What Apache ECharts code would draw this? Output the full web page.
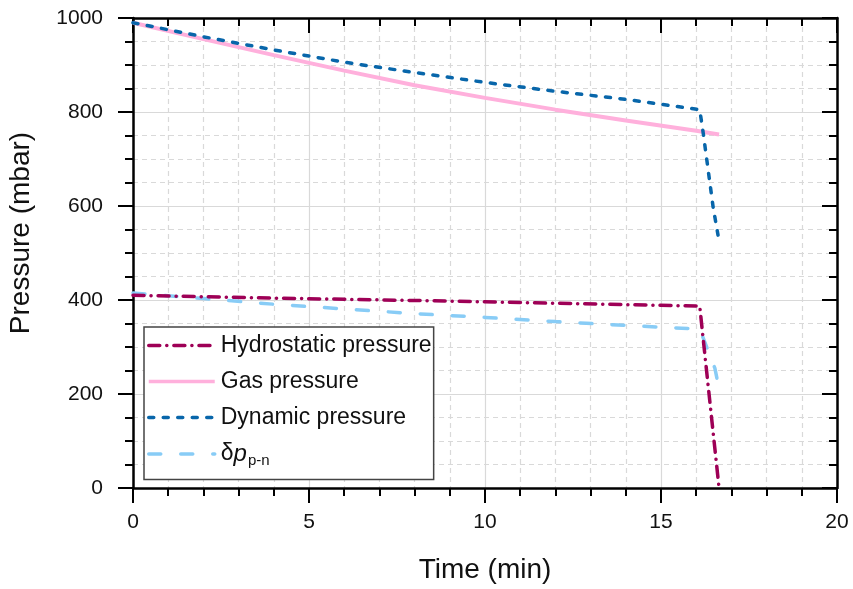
<!DOCTYPE html>
<html>
<head>
<meta charset="utf-8">
<title>Pressure vs time</title>
<script src="https://cdn.jsdelivr.net/npm/echarts@6.0.0/dist/echarts.min.js"></script>
<style>
  html, body { margin: 0; padding: 0; background: #fff; }
  #main { width: 853px; height: 589px; }
</style>
</head>
<body>
<div id="main"></div>
<script>
// data (time in min, pressure in mbar)
var hydroTime = [0, 4, 8, 12, 16.1, 16.25, 16.45, 16.65];
var hydroVal = [410, 404, 399, 393, 387, 281, 140, 0];

var gasTime = [0, 2, 4, 6, 8, 10, 12, 14, 16, 16.65];
var gasVal = [990, 955, 921, 888, 857, 830, 805, 782, 760, 752];

var dynTime = [0, 2, 4, 6, 8, 10, 12, 14, 16.1, 16.2, 16.48, 16.62];
var dynVal = [990, 960, 932, 906, 884, 863, 844, 827, 805, 755, 598, 538];

var deltaTime = [0, 2, 4, 6, 8, 10, 12, 14, 16.1, 16.35, 16.53, 16.62];
var deltaVal = [415, 403, 391, 381, 371, 363, 354, 346, 338, 290, 255, 222];

var xTicks = [0, 5, 10, 15, 20];
var yTicks = [0, 200, 400, 600, 800, 1000];

var seriesNames = ['Hydrostatic pressure', 'Gas pressure', 'Dynamic pressure', 'δp_p-n'];

function zip(xs, ys) {
    return xs.map(function (x, i) { return [x, ys[i]]; });
}

var font = 'Liberation Sans';
var gridColor = '#d9d9d9';

// main axis (bottom / left): outward ticks, labels, grid
function mainAxis(min, max, interval, minorSplit, name, isX) {
    return {
        type: 'value',
        min: min,
        max: max,
        interval: interval,
        name: name,
        nameLocation: 'middle',
        nameGap: isX ? 68 : 98,
        nameTextStyle: {
            fontFamily: font, fontSize: 28, color: '#111',
            // y title sits a bit above the middle in the original
            padding: isX ? 0 : [0, 0, 0, 40]
        },
        axisLine: { show: true, lineStyle: { color: '#000', width: 2.5 } },
        axisTick: { show: true, inside: false, length: 15, lineStyle: { color: '#000', width: 2 } },
        minorTick: { show: true, splitNumber: minorSplit, length: 8, lineStyle: { color: '#000', width: 2 } },
        axisLabel: {
            fontFamily: font, fontSize: 21, color: '#111', margin: isX ? 24 : 30,
            formatter: function (v) {
                var list = isX ? xTicks : yTicks;
                return list.indexOf(v) >= 0 ? String(v) : '';
            }
        },
        splitLine: { show: true, lineStyle: { color: gridColor, width: 1.2 } },
        minorSplitLine: { show: true, lineStyle: { color: gridColor, width: 1.2, type: [5, 4] } }
    };
}

// mirror axis (top / right): inward ticks only
function mirrorAxis(min, max, interval, minorSplit, pos) {
    return {
        type: 'value',
        position: pos,
        min: min,
        max: max,
        interval: interval,
        axisLine: { show: true, onZero: false, lineStyle: { color: '#000', width: 2.5 } },
        axisTick: { show: true, inside: true, length: 15, lineStyle: { color: '#000', width: 2 } },
        minorTick: { show: true, splitNumber: minorSplit, length: 8, lineStyle: { color: '#000', width: 2 } },
        axisLabel: { show: false },
        splitLine: { show: false },
        minorSplitLine: { show: false }
    };
}

var chart = echarts.init(document.getElementById('main'), null, { renderer: 'canvas' });

var option = {
    animation: false,
    backgroundColor: '#fff',
    grid: { left: 133, right: 16, top: 18, bottom: 101, containLabel: false, outerBoundsMode: 'none' },
    xAxis: [
        mainAxis(0, 20, 5, 5, 'Time (min)', true),
        mirrorAxis(0, 20, 5, 5, 'top')
    ],
    yAxis: [
        mainAxis(0, 1000, 200, 4, 'Pressure (mbar)', false),
        mirrorAxis(0, 1000, 200, 4, 'right')
    ],
    legend: {
        orient: 'vertical',
        left: 144,
        top: 327,
        itemWidth: 66,
        itemHeight: 14,
        itemGap: 13,
        padding: [7, 2, 11, 3],
        backgroundColor: '#fff',
        borderColor: '#444',
        borderWidth: 1.5,
        borderRadius: 0,
        data: seriesNames,
        itemStyle: { opacity: 0 },
        lineStyle: { width: 3.5 },
        textStyle: {
            fontFamily: font, fontSize: 23, color: '#111', padding: [0, 0, 0, 1],
            rich: {
                d: { fontFamily: font, fontSize: 23, color: '#111' },
                p: { fontFamily: font, fontSize: 24, fontStyle: 'italic', color: '#111' },
                s: { fontFamily: font, fontSize: 15, color: '#111', padding: [14, 0, 0, 1] }
            }
        },
        formatter: function (name) {
            if (name === 'δp_p-n') return '{d|δ}{p|p}{s|p-n}';
            return name;
        }
    },
    series: [
        {
            name: seriesNames[0],
            type: 'line',
            data: zip(hydroTime, hydroVal),
            showSymbol: false,
            symbol: 'none',
            z: 4,
            lineStyle: { color: '#9e0056', width: 3.5, type: [11, 7, 0.1, 7], cap: 'round' },
            itemStyle: { color: '#9e0056' }
        },
        {
            name: seriesNames[1],
            type: 'line',
            data: zip(gasTime, gasVal),
            showSymbol: false,
            symbol: 'none',
            z: 2,
            lineStyle: { color: '#ffb0dc', width: 4, type: 'solid' },
            itemStyle: { color: '#ffb0dc' }
        },
        {
            name: seriesNames[2],
            type: 'line',
            data: zip(dynTime, dynVal),
            showSymbol: false,
            symbol: 'none',
            z: 3,
            lineStyle: { color: '#0866aa', width: 3.5, type: [5, 9.5], cap: 'round' },
            itemStyle: { color: '#0866aa' }
        },
        {
            name: seriesNames[3],
            type: 'line',
            data: zip(deltaTime, deltaVal),
            showSymbol: false,
            symbol: 'none',
            z: 3,
            lineStyle: { color: '#88ccf6', width: 3.5, type: [12, 20], cap: 'round' },
            itemStyle: { color: '#88ccf6' }
        }
    ]
};

chart.setOption(option);
</script>
</body>
</html>
